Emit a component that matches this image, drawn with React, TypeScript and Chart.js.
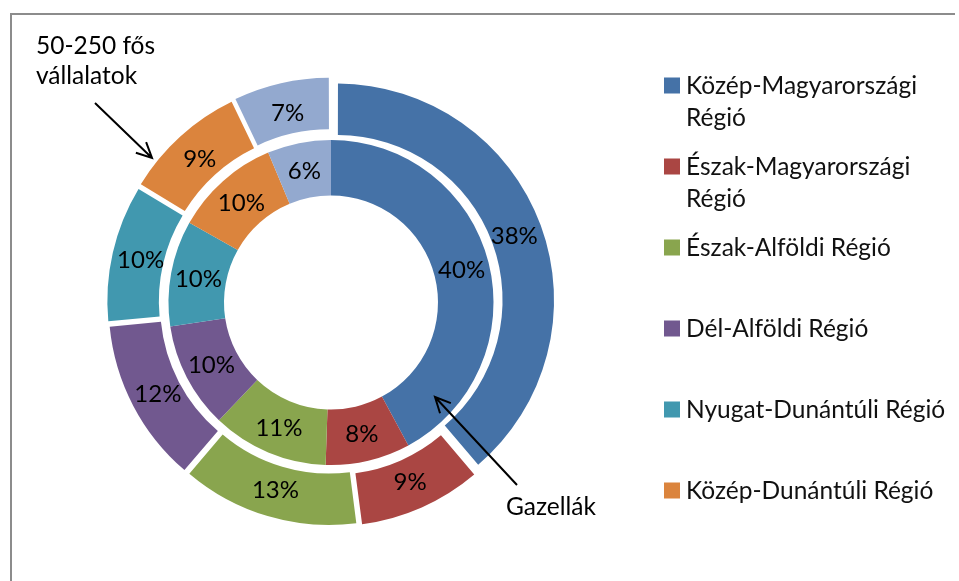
import React, { useEffect, useRef } from 'react';
import { Chart, registerables } from 'chart.js';

Chart.register(...registerables);

// ---- data ----
const categories = [
  'Közép-Magyarországi Régió',
  'Észak-Magyarországi Régió',
  'Észak-Alföldi Régió',
  'Dél-Alföldi Régió',
  'Nyugat-Dunántúli Régió',
  'Közép-Dunántúli Régió',
  'Dél-Dunántúli Régió',
];
// outer ring: 50-250 fős vállalatok
const outerValues = [38, 9, 13, 12, 10, 9, 7];
// inner ring: Gazellák
const innerValues = [40, 8, 11, 10, 10, 10, 6];
const colors = ['#4572A7', '#AA4643', '#89A54E', '#71588F', '#4198AF', '#DB843D', '#93A9CF'];
// legend as shown (wrapped, 6 visible entries)
const legendLines = [
  ['Közép-Magyarországi', 'Régió'],
  ['Észak-Magyarországi', 'Régió'],
  ['Észak-Alföldi Régió'],
  ['Dél-Alföldi Régió'],
  ['Nyugat-Dunántúli Régió'],
  ['Közép-Dunántúli Régió'],
];
const outerSeriesLabel = ['50-250 fős', 'vállalatok'];
const innerSeriesLabel = 'Gazellák';

const FONT_FAMILY = 'Lato, "Open Sans", sans-serif';
const LABEL_FONT_SIZE = 24;
const TEXT_FONT_SIZE = 24.5;
const OUTER_OFFSET = 28; // Chart.js translates by offset/4

function drawArrow(ctx: CanvasRenderingContext2D, x1: number, y1: number, x2: number, y2: number) {
  const ang = Math.atan2(y2 - y1, x2 - x1);
  const head = 17;
  const spread = 0.45;
  ctx.beginPath();
  ctx.moveTo(x1, y1);
  ctx.lineTo(x2, y2);
  ctx.moveTo(x2 - head * Math.cos(ang - spread), y2 - head * Math.sin(ang - spread));
  ctx.lineTo(x2, y2);
  ctx.lineTo(x2 - head * Math.cos(ang + spread), y2 - head * Math.sin(ang + spread));
  ctx.stroke();
}

export default function App() {
  const ref = useRef<HTMLCanvasElement>(null);

  useEffect(() => {
    const canvas = ref.current;
    if (!canvas) return;

    const decor = {
      id: 'decor',
      beforeDraw(chart: any) {
        const ctx: CanvasRenderingContext2D = chart.ctx;
        ctx.save();
        ctx.fillStyle = '#ffffff';
        ctx.fillRect(0, 0, chart.width, chart.height);
        ctx.strokeStyle = '#8c8c8c';
        ctx.lineWidth = 2;
        ctx.beginPath();
        ctx.moveTo(11, chart.height);
        ctx.lineTo(11, 14);
        ctx.lineTo(955, 14);
        ctx.stroke();
        ctx.restore();
      },
      afterDatasetsDraw(chart: any) {
        const ctx: CanvasRenderingContext2D = chart.ctx;
        ctx.save();
        ctx.font = `${LABEL_FONT_SIZE}px ${FONT_FAMILY}`;
        ctx.fillStyle = '#000000';
        ctx.textAlign = 'center';
        ctx.textBaseline = 'middle';
        chart.data.datasets.forEach((ds: any, d: number) => {
          const meta = chart.getDatasetMeta(d);
          const off = (ds.offset || 0) / 4;
          meta.data.forEach((arc: any, i: number) => {
            const p = arc.getProps(['startAngle', 'endAngle', 'innerRadius', 'outerRadius', 'x', 'y'], true);
            const mid = (p.startAngle + p.endAngle) / 2;
            const r = (p.innerRadius + p.outerRadius) / 2 + off;
            ctx.fillText(`${ds.data[i]}%`, p.x + Math.cos(mid) * r, p.y + Math.sin(mid) * r + 1);
          });
        });
        ctx.restore();
      },
      afterDraw(chart: any) {
        const ctx: CanvasRenderingContext2D = chart.ctx;
        ctx.save();
        // legend
        ctx.font = `${TEXT_FONT_SIZE}px ${FONT_FAMILY}`;
        ctx.textAlign = 'left';
        ctx.textBaseline = 'middle';
        legendLines.forEach((lines, i) => {
          const cy = 85.5 + i * 81;
          ctx.fillStyle = colors[i];
          ctx.fillRect(664, cy - 8, 16, 16);
          ctx.fillStyle = '#111111';
          lines.forEach((t, j) => ctx.fillText(t, 686, cy + 1 + j * 32));
        });
        // series annotations
        ctx.fillStyle = '#000000';
        ctx.fillText(outerSeriesLabel[0], 36, 46);
        ctx.fillText(outerSeriesLabel[1], 36, 76);
        ctx.fillText(innerSeriesLabel, 506, 507);
        ctx.strokeStyle = '#000000';
        ctx.lineWidth = 2;
        drawArrow(ctx, 95, 103, 152, 158);
        drawArrow(ctx, 517, 485, 435, 397);
        ctx.restore();
      },
    };

    const chart = new Chart(canvas, {
      type: 'doughnut',
      data: {
        labels: categories,
        datasets: [
          {
            label: outerSeriesLabel.join(' '),
            data: outerValues,
            backgroundColor: colors,
            borderWidth: 0,
            offset: OUTER_OFFSET,
            weight: 51,
          } as any,
          {
            label: innerSeriesLabel,
            data: innerValues,
            backgroundColor: colors,
            borderWidth: 0,
            offset: 0,
            weight: 55,
          } as any,
        ],
      },
      options: {
        responsive: false,
        animation: false,
        events: [],
        radius: 214,
        cutout: '50%',
        layout: { padding: { left: 0, top: 24, right: 297, bottom: 0 } },
        plugins: {
          legend: { display: false },
          tooltip: { enabled: false },
        },
      } as any,
      plugins: [decor],
    });

    return () => chart.destroy();
  }, []);

  return (
    <div style={{ position: 'fixed', left: 0, top: 0, width: 959, height: 581, background: '#fff' }}>
      <canvas ref={ref} width={959} height={581} style={{ display: 'block', width: 959, height: 581 }} />
    </div>
  );
}
